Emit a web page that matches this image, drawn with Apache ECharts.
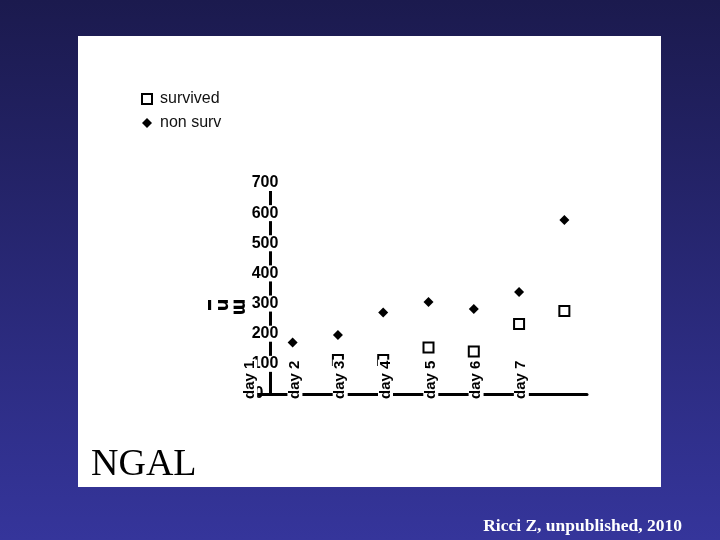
<!DOCTYPE html>
<html>
<head>
<meta charset="utf-8">
<script src="https://cdn.jsdelivr.net/npm/echarts@6/dist/echarts.min.js"></script>
<style>html,body{margin:0;padding:0;}#c{width:720px;height:540px;}</style>
</head>
<body>
<div id="c"></div>
<script>
// ---- data ----
var categories = ['day 1', 'day 2', 'day 3', 'day 4', 'day 5', 'day 6', 'day 7'];
var tickLabels = ['day 1', 'day 2', 'day 3', 'day 4', 'day 5', 'day 6', 'day 7'];
var survived = [null, 113, 113, 154, 141, 232, 275];
var nonSurv = [171, 196, 270, 305, 282, 338, 577];
var yTicks = [0, 100, 200, 300, 400, 500, 600, 700];
var seriesNames = ['survived', 'non surv'];
var yName = 'ı\u2009ᴝ\u2009ᴟ';
var panelTitle = 'NGAL';
var sourceNote = 'Ricci Z, unpublished, 2010';

var chart = echarts.init(document.getElementById('c'), null, {renderer: 'canvas'});
var sans = 'Liberation Sans, Arial, sans-serif';
var serif = 'Liberation Serif, Times New Roman, serif';

var option = {
  animation: false,
  backgroundColor: {
    type: 'linear', x: 0, y: 0, x2: 0, y2: 1,
    colorStops: [{offset: 0, color: '#1b1a4e'}, {offset: 1, color: '#35359b'}]
  },
  graphic: [{
    type: 'rect', z: -10, silent: true,
    shape: {x: 78, y: 36, width: 583, height: 451},
    style: {fill: '#ffffff'}
  }],
  title: [
    {text: panelTitle, left: 86, top: 441,
     textStyle: {fontFamily: serif, fontSize: 38, fontWeight: 'normal', color: '#000'}},
    {text: sourceNote, right: 33, top: 512,
     textStyle: {fontFamily: serif, fontSize: 17.5, fontWeight: 'bold', color: '#ffffff'}}
  ],
  legend: {
    data: seriesNames,
    orient: 'vertical', left: 136, top: 86,
    itemWidth: 10, itemHeight: 10, itemGap: 8,
    textStyle: {fontFamily: sans, fontSize: 16, color: '#111', padding: [0, 0, 0, 3]}
  },
  grid: [
    {left: 270, right: 133, top: 183, bottom: 146},
    {left: 227, width: 317, top: 183, bottom: 146}
  ],
  xAxis: [
    {type: 'category', gridIndex: 0, data: categories, boundaryGap: true, z: 0,
     axisLine: {lineStyle: {color: '#000', width: 3}},
     axisTick: {show: false}, axisLabel: {show: false}, splitLine: {show: false}},
    {type: 'category', gridIndex: 1, data: tickLabels, boundaryGap: true, z: 5,
     axisLine: {show: false}, axisTick: {show: false}, splitLine: {show: false},
     axisLabel: {rotate: 90, align: 'left', margin: 6, interval: 0,
       fontFamily: sans, fontSize: 15, fontWeight: 'bold', color: '#000',
       backgroundColor: '#ffffff', padding: [0, 1, 0, 1]}}
  ],
  yAxis: [
    {type: 'value', gridIndex: 0, min: 0, max: 700, interval: 100, z: 4,
     name: yName, nameLocation: 'middle', nameGap: 23, nameRotate: 0,
     nameTextStyle: {fontFamily: 'DejaVu Sans, sans-serif', fontSize: 18, fontWeight: 'bold', color: '#000',
       verticalAlign: 'top', padding: [8, 0, 0, 0]},
     axisLine: {show: true, lineStyle: {color: '#000', width: 3}},
     axisTick: {show: true, length: 15, lineStyle: {color: '#000', width: 3}},
     splitLine: {show: false},
     axisLabel: {
       align: 'center', margin: 5,
       fontFamily: sans, fontSize: 16, fontWeight: 'bold', color: '#000',
       formatter: function (v) { return v === 0 ? '{z|0}' : '{a|' + v + '}'; },
       rich: {
         a: {fontFamily: sans, fontSize: 16, fontWeight: 'bold', color: '#000', backgroundColor: '#ffffff', padding: [0, 1, 0, 1]},
         z: {fontFamily: sans, fontSize: 16, fontWeight: 'bold', color: '#000', padding: [0, 12, 0, 0]}
       }
     }},
    {type: 'value', gridIndex: 1, min: 0, max: 700, show: false}
  ],
  series: [
    {name: seriesNames[0], type: 'scatter', xAxisIndex: 0, yAxisIndex: 0, z: 2,
     symbol: 'rect', symbolSize: 10,
     itemStyle: {color: '#ffffff', borderColor: '#000', borderWidth: 2, opacity: 1},
     data: survived},
    {name: seriesNames[1], type: 'scatter', xAxisIndex: 0, yAxisIndex: 0, z: 2,
     symbol: 'diamond', symbolSize: 10,
     itemStyle: {color: '#000', opacity: 1},
     data: nonSurv}
  ]
};
chart.setOption(option);
</script>
</body>
</html>
